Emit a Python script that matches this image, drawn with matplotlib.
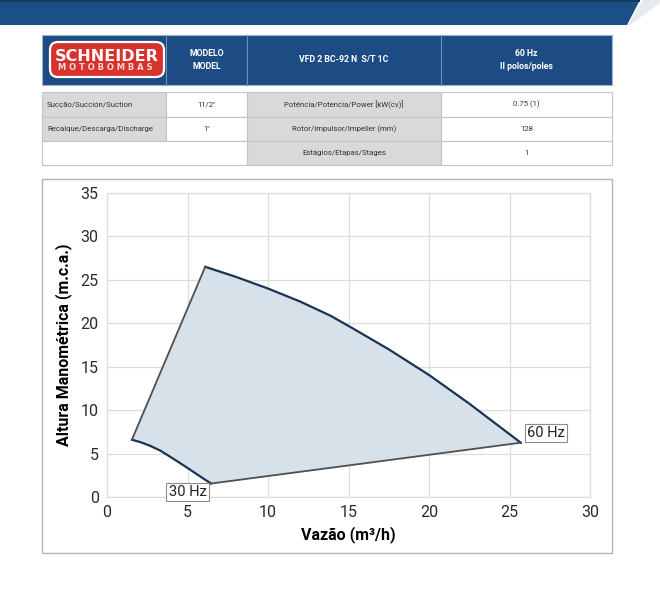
import matplotlib
matplotlib.use("Agg")
import matplotlib.pyplot as plt
from matplotlib.patches import Rectangle, Polygon, FancyBboxPatch

# ---------------- data ----------------
curve60_x = [6.1, 8.0, 10.0, 12.0, 13.85, 15.0, 17.5, 20.0, 22.5, 25.7]
curve60_y = [26.5, 25.35, 24.0, 22.5, 20.9, 19.7, 17.0, 14.05, 10.75, 6.25]
curve30_x = [1.55, 2.1, 2.67, 3.3, 3.91, 4.5, 5.16, 5.8, 6.46]
curve30_y = [6.6, 6.3, 5.9, 5.35, 4.65, 3.95, 3.15, 2.35, 1.55]
label_30 = "30 Hz"
label_60 = "60 Hz"
x_ticks = [0, 5, 10, 15, 20, 25, 30]
y_ticks = [0, 5, 10, 15, 20, 25, 30, 35]

header_texts = ["MODELO\nMODEL", "VFD 2 BC-92 N  S/T 1C", "60 Hz\nII polos/poles"]
row_labels_left = ["Sucção/Succión/Suction", "Recalque/Descarga/Discharge", ""]
row_values_left = ["11/2\"", "1\"", ""]
row_labels_right = ["Potência/Potencia/Power [kW(cv)]", "Rotor/Impulsor/Impeller (mm)", "Estágios/Etapas/Stages"]
row_values_right = ["0.75 (1)", "128", "1"]

BLUE = "#1d4c84"
GRAY_CELL = "#d9d9d9"
BORDER = "#c4c4c4"
FILL = "#d6e1ea"
NAVY = "#1a3452"
EDGE = "#505050"
FONT = ["Roboto", "DejaVu Sans"]

fig = plt.figure(figsize=(6.6, 6.0), dpi=100)
bg = fig.add_axes([0, 0, 1, 1])
bg.set_xlim(0, 660)
bg.set_ylim(600, 0)
bg.axis("off")

# banner
bg.add_patch(Polygon([[0, 0], [640, 0], [627, 25], [0, 25]], closed=True,
                     facecolor="#1b4f86", edgecolor="none"))
bg.add_patch(Rectangle((0, 0), 640, 2, facecolor="#163a5e", edgecolor="none"))
bg.add_patch(Polygon([[643, 0], [660, 0], [660, 3], [630, 25], [628, 25]], closed=True,
                     facecolor="#e6eaef", edgecolor="none"))

# table header
cols = [42, 166, 247, 441, 612]
bg.add_patch(Rectangle((42, 35), 570, 50, facecolor=BLUE, edgecolor="#9fb3c9", lw=0.8))
for cx in cols[1:-1]:
    bg.plot([cx, cx], [35, 85], color="#6f8fb5", lw=0.8)
for i, t in enumerate(header_texts):
    xc = (cols[i + 1] + cols[i + 2]) / 2
    bg.text(xc, 60, t, color="white", ha="center", va="center", fontsize=6.3,
            fontweight="bold", family=FONT, linespacing=1.6)

# logo
bg.add_patch(FancyBboxPatch((50, 42), 114, 35, boxstyle="round,pad=0,rounding_size=8",
                            facecolor="#d8322d", edgecolor="white", lw=1.6))
bg.text(107, 56.5, "SCHNEIDER", color="white", ha="center", va="center", fontsize=11.5,
        fontweight="bold", family=["DejaVu Sans"])
bg.text(105, 67.5, "M O T O B O M B A S", color="#f6d8d8", ha="center", va="center",
        fontsize=6, fontweight="bold", family=["DejaVu Sans"])

# table body
rows = [92, 117, 141, 165]
for r in range(3):
    y0, y1 = rows[r], rows[r + 1]
    if r < 2:
        bg.add_patch(Rectangle((42, y0), 124, y1 - y0, facecolor=GRAY_CELL, edgecolor=BORDER, lw=0.8))
        bg.add_patch(Rectangle((166, y0), 81, y1 - y0, facecolor="white", edgecolor=BORDER, lw=0.8))
        bg.text(47, (y0 + y1) / 2, row_labels_left[r], ha="left", va="center", fontsize=5.6,
                family=FONT, color="#333333")
        bg.text(206.5, (y0 + y1) / 2, row_values_left[r], ha="center", va="center", fontsize=5.6,
                family=FONT, color="#333333")
    else:
        bg.add_patch(Rectangle((42, y0), 205, y1 - y0, facecolor="white", edgecolor=BORDER, lw=0.8))
    bg.add_patch(Rectangle((247, y0), 194, y1 - y0, facecolor=GRAY_CELL, edgecolor=BORDER, lw=0.8))
    bg.add_patch(Rectangle((441, y0), 171, y1 - y0, facecolor="white", edgecolor=BORDER, lw=0.8))
    bg.text(344, (y0 + y1) / 2, row_labels_right[r], ha="center", va="center", fontsize=5.6,
            family=FONT, color="#333333")
    bg.text(526.5, (y0 + y1) / 2, row_values_right[r], ha="center", va="center", fontsize=5.6,
            family=FONT, color="#333333")

# chart frame
bg.add_patch(Rectangle((42, 179), 570, 374, facecolor="white", edgecolor="#b5b5b5", lw=1.0))

# ---------------- chart ----------------
ax = fig.add_axes([107 / 660, 1 - 497 / 600, 483 / 660, 304 / 600])
ax.set_xlim(0, 30)
ax.set_ylim(0, 35)
ax.set_xticks(x_ticks)
ax.set_yticks(y_ticks)
ax.grid(True, color="#dddddd", lw=0.9)
ax.set_axisbelow(True)
for s in ax.spines.values():
    s.set_color("#dddddd")
    s.set_linewidth(0.9)
ax.tick_params(length=0, labelsize=11.5, colors="#2a2a2a", pad=6)
for lab in ax.get_xticklabels() + ax.get_yticklabels():
    lab.set_family(FONT)

# envelope: 60 Hz curve, lower line to 30 Hz end, 30 Hz curve back, left line closes
env_x = list(curve60_x) + list(curve30_x[::-1])
env_y = list(curve60_y) + list(curve30_y[::-1])
ax.fill(env_x, env_y, color=FILL, zorder=2)
ax.plot(curve60_x, curve60_y, color=NAVY, lw=1.6, zorder=3, solid_joinstyle="round")
ax.plot(curve30_x, curve30_y, color=NAVY, lw=1.6, zorder=3, solid_joinstyle="round")
ax.plot([curve30_x[-1], curve60_x[-1]], [curve30_y[-1], curve60_y[-1]], color=EDGE, lw=1.3, zorder=3)
ax.plot([curve30_x[0], curve60_x[0]], [curve30_y[0], curve60_y[0]], color=EDGE, lw=1.3, zorder=3)

bbox = dict(boxstyle="square,pad=0.15", facecolor="white", edgecolor="#8c8c8c", lw=0.8)
ax.text(5.0, 0.6, label_30, ha="center", va="center", fontsize=10.5, family=FONT,
        color="#222222", bbox=bbox, zorder=5, clip_on=False)
ax.text(26.1, 7.35, label_60, ha="left", va="center", fontsize=10.5, family=FONT,
        color="#222222", bbox=bbox, zorder=5, clip_on=False)

ax.set_xlabel("Vazão (m³/h)", fontsize=11.5, fontweight="bold", family=FONT, labelpad=4)
ax.set_ylabel("Altura Manométrica (m.c.a.)", fontsize=11.5, fontweight="bold", family=FONT, labelpad=6)

fig.savefig("out.png", dpi=100)
